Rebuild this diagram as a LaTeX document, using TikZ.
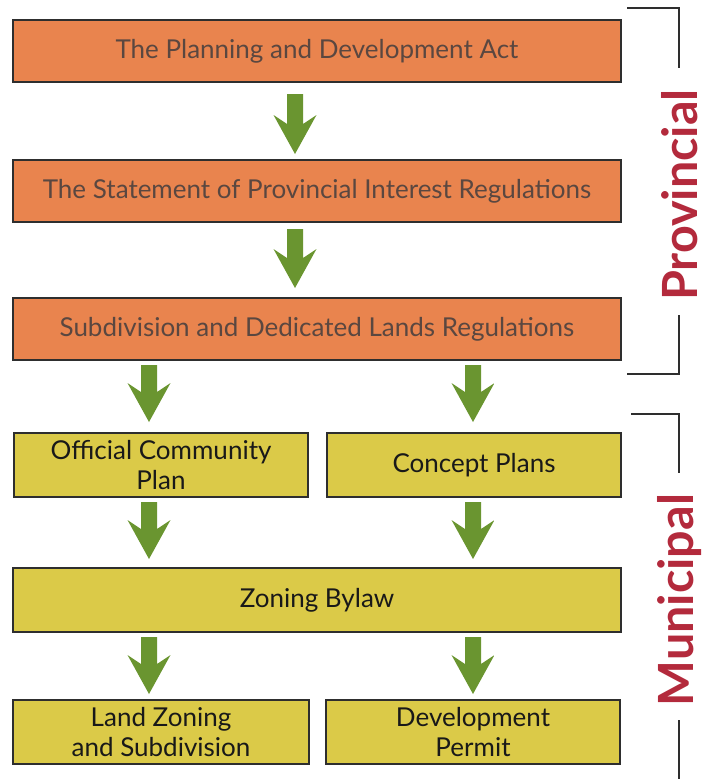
\documentclass[tikz,border=0pt]{standalone}
\usepackage{fontspec}
\setmainfont{Lato}
\usetikzlibrary{calc}
\definecolor{orangebox}{HTML}{E9844E}
\definecolor{yellowbox}{HTML}{DBCA48}
\definecolor{boxline}{HTML}{2E2E2E}
\definecolor{redlabel}{HTML}{B32A3C}
\definecolor{greenlight}{HTML}{A3C652}
\definecolor{greendark}{HTML}{6A9530}
\definecolor{otext}{HTML}{5A4740}
\tikzset{
  obox/.style={draw=boxline, line width=2.5pt, fill=orangebox, text=otext,
    font=\fontsize{26}{30}\selectfont, minimum width=608pt, minimum height=62pt,
    anchor=north west, inner sep=0pt, outer sep=0pt},
  ybox/.style={draw=boxline, line width=2.5pt, fill=yellowbox, text=black!90,
    font=\fontsize{26}{30}\selectfont, align=center, anchor=north west,
    inner sep=0pt, outer sep=0pt},
  sidelabel/.style={text=redlabel, font=\bfseries\fontsize{48.5}{48.5}\selectfont, rotate=90},
  bracket/.style={draw=boxline, line width=2pt},
  greenfill/.style={left color=greendark, middle color=greenlight, right color=greendark},
}
% #1 start (named), #2 end (named), #3 top gap, #4 bottom gap
\newcommand\greenarrow[4]{%
  \path[greenfill] let \p1=($(#1)+(0,#3)$), \p2=($(#2)-(0,#4)$) in
    (\x1-8pt,\y1) -- (\x1+8pt,\y1) -- (\x1+8pt,\y2+30pt) -- (\x1+21.5pt,\y2+39pt)
    -- (\x1,\y2) -- (\x1-21.5pt,\y2+39pt) -- (\x1-8pt,\y2+30pt) -- cycle;}
\begin{document}
\begin{tikzpicture}[x=1pt,y=-1pt]
\useasboundingbox (0,0) rectangle (707,779);
\fill[white] (0,0) rectangle (707,779);
\coordinate (colM) at (295,0);
\coordinate (colL) at (149,0);
\coordinate (colR) at (473,0);

\node[obox] (b1) at (13,20) {The Planning and Development Act};
\node[obox] (b2) at (13,160) {The Statement of Provincial Interest Regulations};
\node[obox] (b3) at (13,298) {Subdivision and Dedicated Lands Regulations};

\node[ybox, minimum width=294pt, minimum height=64pt] (ocp) at (14,433) {Official Community\\Plan};
\node[ybox, minimum width=294pt, minimum height=64pt] (cp) at (327,433) {Concept Plans};
\node[ybox, minimum width=608pt, minimum height=64pt] (zb) at (13,568) {Zoning Bylaw};
\node[ybox, minimum width=296pt, minimum height=64pt] (lz) at (13,700) {Land Zoning\\and Subdivision};
\node[ybox, minimum width=294pt, minimum height=64pt] (dp) at (326,700) {Development\\Permit};

\greenarrow{b1.south -| colM}{b2.north -| colM}{12}{6}
\greenarrow{b2.south -| colM}{b3.north -| colM}{7}{10}
\greenarrow{b3.south -| colL}{ocp.north -| colL}{5}{11}
\greenarrow{b3.south -| colR}{cp.north -| colR}{5}{11}
\greenarrow{ocp.south -| colL}{zb.north -| colL}{5}{9}
\greenarrow{cp.south -| colR}{zb.north -| colR}{5}{9}
\greenarrow{zb.south -| colL}{lz.north -| colL}{5}{6}
\greenarrow{zb.south -| colR}{dp.north -| colR}{5}{6}

\node[sidelabel] (prov) at (680,195) {Provincial};
\node[sidelabel] (muni) at (680,600) {Municipal};

\draw[bracket] (627,8) -- (679,8) -- (679,68);
\draw[bracket] (679,315) -- (679,374) -- (627,374);
\draw[bracket] (631,414) -- (679,414) -- (679,473);
\draw[bracket] (679,720) -- (679,779);
\end{tikzpicture}
\end{document}
